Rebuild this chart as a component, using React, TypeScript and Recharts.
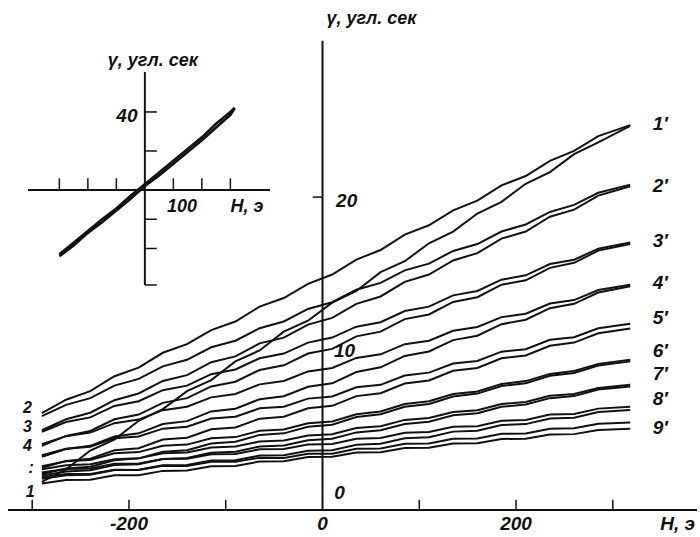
import { LineChart, Line, XAxis, YAxis, ReferenceLine, ReferenceDot } from 'recharts';

const FONT = "'Liberation Sans', Arial, sans-serif";

// main plot: field H (Oe) grid shared by all traces
const fieldH = [-290, -265, -240, -215, -190, -165, -140, -115, -90, -65, -40, -15, 10, 35, 60, 85, 110, 135, 160, 185, 210, 235, 260, 285, 318];

// rotation angle gamma (arc sec), two branches per curve, named by the right-hand label
const curve1Up = [6.2, 7.05, 7.6, 8.55, 9.1, 10.05, 10.6, 11.5, 12.05, 13.0, 13.55, 14.45, 15.05, 16.0, 16.62, 17.6, 18.2, 19.15, 19.78, 20.75, 21.35, 22.32, 22.95, 23.9, 24.6];
const curve1Lo = [1.8, 2.6, 3.8, 4.5, 5.7, 6.45, 7.6, 8.3, 9.5, 10.2, 11.4, 12.1, 13.25, 14.0, 15.2, 15.9, 17.05, 17.8, 18.95, 19.7, 20.85, 21.6, 22.75, 23.5, 24.55];
const curve2Up = [6.0, 6.72, 7.15, 7.95, 8.38, 9.18, 9.6, 10.4, 10.82, 11.62, 12.05, 12.85, 13.28, 14.08, 14.52, 15.32, 15.75, 16.56, 17.0, 17.8, 18.25, 19.05, 19.5, 20.28, 20.8];
const curve2Lo = [5.1, 5.8, 6.22, 7.02, 7.45, 8.25, 8.62, 9.45, 9.82, 10.65, 11.02, 11.85, 12.28, 13.18, 13.65, 14.58, 15.05, 15.95, 16.42, 17.35, 17.8, 18.75, 19.2, 20.1, 20.7];
const curve3Up = [5.0, 5.62, 5.92, 6.65, 6.95, 7.66, 7.95, 8.68, 8.98, 9.7, 10.0, 10.7, 11.02, 11.72, 12.0, 12.72, 13.0, 13.72, 14.0, 14.72, 15.0, 15.72, 16.0, 16.7, 17.1];
const curve3Lo = [4.1, 4.74, 5.05, 5.8, 6.1, 6.85, 7.15, 7.9, 8.2, 8.95, 9.25, 10.0, 10.3, 11.1, 11.4, 12.2, 12.5, 13.3, 13.6, 14.4, 14.68, 15.48, 15.8, 16.58, 17.0];
const curve4Up = [4.2, 4.72, 4.95, 5.55, 5.78, 6.38, 6.6, 7.2, 7.42, 8.03, 8.25, 8.86, 9.08, 9.72, 9.95, 10.6, 10.82, 11.46, 11.7, 12.33, 12.55, 13.2, 13.42, 14.06, 14.4];
const curve4Lo = [3.4, 3.9, 4.1, 4.7, 4.9, 5.5, 5.68, 6.3, 6.47, 7.08, 7.27, 7.88, 8.1, 8.82, 9.12, 9.85, 10.13, 10.86, 11.14, 11.88, 12.16, 12.9, 13.18, 13.9, 14.3];
const curve5Up = [3.5, 3.92, 4.05, 4.58, 4.7, 5.2, 5.32, 5.85, 5.96, 6.5, 6.6, 7.12, 7.26, 7.85, 8.0, 8.6, 8.78, 9.36, 9.53, 10.12, 10.28, 10.88, 11.04, 11.62, 11.9];
const curve5Lo = [2.7, 3.14, 3.28, 3.82, 3.95, 4.5, 4.62, 5.16, 5.28, 5.84, 5.96, 6.5, 6.66, 7.28, 7.46, 8.08, 8.28, 8.9, 9.08, 9.7, 9.88, 10.5, 10.7, 11.3, 11.6];
const curve6Up = [2.8, 3.12, 3.2, 3.62, 3.7, 4.1, 4.18, 4.58, 4.66, 5.06, 5.14, 5.54, 5.66, 6.12, 6.3, 6.78, 6.95, 7.42, 7.58, 8.06, 8.24, 8.7, 8.88, 9.34, 9.6];
const curve6Lo = [2.3, 2.65, 2.76, 3.18, 3.3, 3.72, 3.82, 4.25, 4.36, 4.8, 4.9, 5.32, 5.45, 5.94, 6.12, 6.6, 6.78, 7.26, 7.44, 7.92, 8.1, 8.58, 8.76, 9.24, 9.5];
const curve7Up = [2.6, 2.86, 2.92, 3.25, 3.3, 3.62, 3.68, 4.0, 4.06, 4.38, 4.44, 4.76, 4.84, 5.24, 5.36, 5.76, 5.88, 6.26, 6.38, 6.78, 6.9, 7.3, 7.42, 7.8, 8.0];
const curve7Lo = [2.2, 2.46, 2.54, 2.88, 2.93, 3.26, 3.33, 3.66, 3.72, 4.06, 4.12, 4.46, 4.55, 4.96, 5.1, 5.5, 5.64, 6.06, 6.18, 6.6, 6.74, 7.15, 7.28, 7.7, 7.9];
const curve8Up = [2.4, 2.62, 2.65, 2.95, 2.97, 3.26, 3.28, 3.56, 3.58, 3.88, 3.9, 4.18, 4.22, 4.55, 4.6, 4.94, 4.98, 5.32, 5.36, 5.7, 5.75, 6.1, 6.14, 6.48, 6.6];
const curve8Lo = [2.0, 2.22, 2.25, 2.55, 2.57, 2.86, 2.88, 3.16, 3.18, 3.48, 3.5, 3.78, 3.82, 4.17, 4.23, 4.59, 4.65, 5.01, 5.07, 5.43, 5.49, 5.85, 5.9, 6.27, 6.4];
const curve9Up = [2.1, 2.3, 2.3, 2.57, 2.56, 2.83, 2.82, 3.08, 3.08, 3.34, 3.33, 3.6, 3.6, 3.91, 3.93, 4.23, 4.25, 4.55, 4.57, 4.87, 4.89, 5.2, 5.22, 5.52, 5.6];
const curve9Lo = [1.7, 1.92, 1.93, 2.22, 2.22, 2.5, 2.52, 2.8, 2.82, 3.1, 3.11, 3.39, 3.4, 3.67, 3.69, 3.96, 3.98, 4.25, 4.27, 4.54, 4.56, 4.83, 4.85, 5.12, 5.2];

const curves = [curve1Up, curve1Lo, curve2Up, curve2Lo, curve3Up, curve3Lo, curve4Up, curve4Lo, curve5Up, curve5Lo, curve6Up, curve6Lo, curve7Up, curve7Lo, curve8Up, curve8Lo, curve9Up, curve9Lo];

const xTickMarks = [-300, -200, -100, 100, 200, 300];
const xTickLabels = [-200, 0, 200];
const yTickLabels = [0, 10, 20];

const leftLabels = ['2', '3', '4', ':', '1'];
const rightLabels = ['1′', '2′', '3′', '4′', '5′', '6′', '7′', '8′', '9′'];

// inset: full loop at smaller scale
const insetH = [-300, -250, -200, -150, -100, -50, 0, 50, 100, 150, 200, 250, 300, 315];
const insetUp = [-33, -27, -21, -15, -9.5, -3, 3, 9, 15, 21, 27, 34, 40, 42];
const insetDown = [-34, -28.5, -22, -16.5, -10.5, -4.5, 2, 7.5, 13.5, 19.5, 25.5, 32, 38.5, 42];
const insetXTicks = [-300, -200, -100, 100, 200, 300];
const insetYTicks = [40, 20, -15, -30];

const mainData = fieldH.map((h, i) => {
  const row: Record<string, number> = { h };
  curves.forEach((c, k) => { row['c' + k] = c[i]; });
  return row;
});

const insetData = insetH.map((h, i) => ({ h, up: insetUp[i], down: insetDown[i] }));

const txt = (size: number) => ({ fill: '#111', fontSize: size, fontStyle: 'italic', fontWeight: 'bold', fontFamily: FONT });

// where the text sits, in data units
const leftLabelPos = [[-305, 6.59], [-305, 5.37], [-305, 4.16], [-301, 2.75], [-302, 1.21]];
const rightLabelPos = [24.74, 20.78, 17.26, 14.58, 12.34, 10.23, 8.76, 7.16, 5.31];
const yLabelPos = [[17.5, 1.15], [22.7, 10.2], [25, 19.8]];

export default function App() {
  return (
    <div style={{ position: 'absolute', left: 0, top: 0, width: 700, height: 537, background: '#fff' }}>
      <LineChart width={700} height={537} data={mainData} margin={{ top: 0, right: 3, left: 8, bottom: 0 }}>
        <XAxis
          dataKey="h"
          type="number"
          domain={[-325, 387]}
          ticks={xTickLabels}
          tickLine={false}
          tickSize={0}
          tickMargin={7}
          height={27}
          axisLine={{ stroke: '#111', strokeWidth: 2 }}
          tick={txt(19)}
          label={{ value: 'H, э', position: 'insideRight', offset: 2, ...txt(19) }}
        />
        <YAxis hide type="number" domain={[0, 32.6]} />
        <ReferenceLine segment={[{ x: 0, y: 0 }, { x: 0, y: 30 }]} stroke="#111" strokeWidth={2} />
        <ReferenceLine segment={[{ x: -10, y: 20 }, { x: 0, y: 20 }]} stroke="#111" strokeWidth={1.5} />
        {xTickMarks.map((t) => (
          <ReferenceLine key={'xt' + t} segment={[{ x: t, y: 0 }, { x: t, y: 0.65 }]} stroke="#111" strokeWidth={1.5} />
        ))}
        {yTickLabels.map((v, i) => (
          <ReferenceDot key={'yl' + v} x={yLabelPos[i][0]} y={yLabelPos[i][1]} r={0} fill="none" stroke="none"
            label={{ value: String(v), position: 'center', ...txt(19) }} />
        ))}
        <ReferenceDot x={50.5} y={31.45} r={0} fill="none" stroke="none"
          label={{ value: 'γ, угл. сек', position: 'center', ...txt(18) }} />
        {leftLabels.map((s, i) => (
          <ReferenceDot key={'ll' + i} x={leftLabelPos[i][0]} y={leftLabelPos[i][1]} r={0} fill="none" stroke="none"
            label={{ value: s, position: 'center', ...txt(16) }} />
        ))}
        {rightLabels.map((s, i) => (
          <ReferenceDot key={'rl' + i} x={349} y={rightLabelPos[i]} r={0} fill="none" stroke="none"
            label={{ value: s, position: 'center', ...txt(19) }} />
        ))}
        {curves.map((_, k) => (
          <Line key={k} dataKey={'c' + k} type="linear" stroke="#111" strokeWidth={2} dot={false} isAnimationActive={false} />
        ))}
      </LineChart>

      <div style={{ position: 'absolute', left: 0, top: 0 }}>
        <LineChart width={300} height={300} data={insetData} margin={{ top: 0, right: 30, left: 28, bottom: 0 }}>
          <XAxis hide dataKey="h" type="number" domain={[-410, 439]} />
          <YAxis hide type="number" domain={[-56.4, 97.4]} />
          <ReferenceLine y={0} stroke="#111" strokeWidth={2} />
          <ReferenceLine segment={[{ x: 0, y: -48.7 }, { x: 0, y: 60.5 }]} stroke="#111" strokeWidth={2} />
          {insetXTicks.map((t) => (
            <ReferenceLine key={'it' + t} segment={[{ x: t, y: 0 }, { x: t, y: 6 }]} stroke="#111" strokeWidth={1.5} />
          ))}
          {insetYTicks.map((t) => (
            <ReferenceLine key={'iy' + t} segment={[{ x: 0, y: t }, { x: 42, y: t }]} stroke="#111" strokeWidth={1.5} />
          ))}
          <ReferenceLine segment={[{ x: 0, y: -48.7 }, { x: 42, y: -48.7 }]} stroke="#111" strokeWidth={1.5} />
          <ReferenceDot x={-63} y={38.5} r={0} fill="none" stroke="none" label={{ value: '40', position: 'center', ...txt(19) }} />
          <ReferenceDot x={130} y={-8} r={0} fill="none" stroke="none" label={{ value: '100', position: 'center', ...txt(18) }} />
          <ReferenceDot x={358} y={-8} r={0} fill="none" stroke="none" label={{ value: 'H, э', position: 'center', ...txt(18) }} />
          <ReferenceDot x={28} y={66.7} r={0} fill="none" stroke="none" label={{ value: 'γ, угл. сек', position: 'center', ...txt(18) }} />
          <Line dataKey="up" type="linear" stroke="#111" strokeWidth={2.6} dot={false} isAnimationActive={false} />
          <Line dataKey="down" type="linear" stroke="#111" strokeWidth={2.6} dot={false} isAnimationActive={false} />
        </LineChart>
      </div>
    </div>
  );
}
